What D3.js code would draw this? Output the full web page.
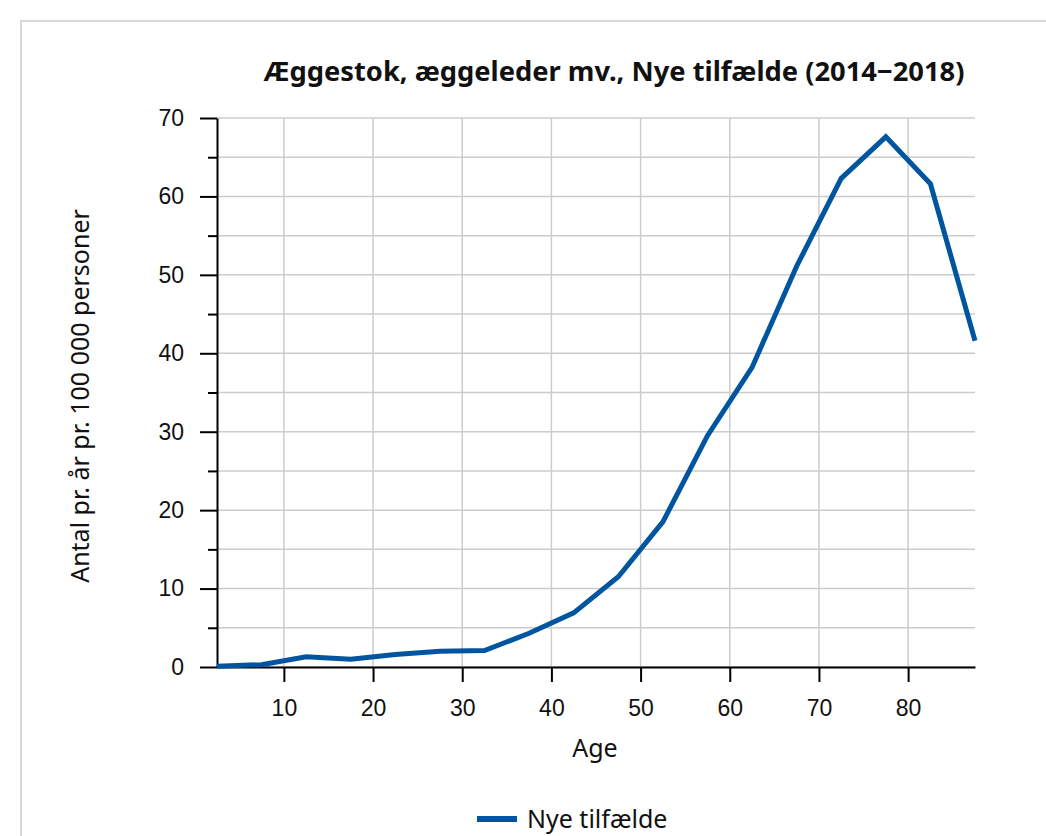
<!DOCTYPE html>
<html lang="da">
<head>
<meta charset="utf-8">
<script src="https://d3js.org/d3.v7.min.js"></script>
<style>
body { margin: 0; background: #fff; }
.frame { position: absolute; left: 20px; top: 20px; width: 1040px; height: 830px; border-top: 2px solid #d9d9d9; border-left: 2px solid #d9d9d9; }
</style>
</head>
<body>
<div class="frame"></div>
<script>
// age group midpoints and new cases per 100 000
var ages = [2.5, 7.5, 12.5, 17.5, 22.5, 27.5, 32.5, 37.5, 42.5, 47.5, 52.5, 57.5, 62.5, 67.5, 72.5, 77.5, 82.5, 87.5];
var rates = [0.1, 0.3, 1.3, 1.0, 1.6, 2.0, 2.1, 4.3, 6.9, 11.5, 18.5, 29.5, 38.2, 51.1, 62.3, 67.6, 61.6, 41.6];
var xTicks = [10, 20, 30, 40, 50, 60, 70, 80];
var yTicks = [0, 10, 20, 30, 40, 50, 60, 70];
var yMinor = [5, 15, 25, 35, 45, 55, 65];

var width = 1046, height = 836;
var plotLeft = 217, plotRight = 975, plotTop = 118, plotBottom = 667;

var svg = d3.select("body").append("svg")
    .attr("width", width).attr("height", height)
    .style("position", "absolute").style("left", 0).style("top", 0);

var x = d3.scaleLinear().domain([2.5, 87.5]).range([plotLeft, plotRight]);
var y = d3.scaleLinear().domain([0, 70]).range([plotBottom, plotTop]);

// grid
svg.append("g").selectAll("line").data(yTicks.concat(yMinor)).enter().append("line")
    .attr("x1", plotLeft).attr("x2", plotRight)
    .attr("y1", d => y(d)).attr("y2", d => y(d))
    .style("stroke", "#cccccc").style("stroke-width", 1.5);
svg.append("g").selectAll("line").data(xTicks).enter().append("line")
    .attr("x1", d => x(d)).attr("x2", d => x(d))
    .attr("y1", plotTop).attr("y2", plotBottom)
    .style("stroke", "#cccccc").style("stroke-width", 1.5);

// y axis
svg.append("g").attr("transform", "translate(" + plotLeft + ",0)")
    .call(d3.axisLeft(y).tickValues(yTicks).tickSize(17).tickPadding(16).tickSizeOuter(0));
svg.append("g").attr("transform", "translate(" + plotLeft + ",0)")
    .call(d3.axisLeft(y).tickValues(yMinor).tickSize(9).tickFormat("").tickSizeOuter(0))
    .select(".domain").remove();

// x axis
svg.append("g").attr("transform", "translate(0," + plotBottom + ")")
    .call(d3.axisBottom(x).tickValues(xTicks).tickSize(15).tickPadding(18).tickSizeOuter(0));

svg.selectAll(".domain, .tick line").style("stroke", "#000").style("stroke-width", 2);
svg.selectAll(".tick text").style("font-family", "'Liberation Sans', Arial, sans-serif")
    .style("font-size", "23px").style("fill", "#111");

// line
var line = d3.line().x((d, i) => x(ages[i])).y(d => y(d));
svg.append("path").datum(rates)
    .attr("d", line)
    .style("fill", "none")
    .style("stroke", "#0055a0")
    .style("stroke-width", 5)
    .style("stroke-linejoin", "miter");

// title
svg.append("text")
    .attr("x", 614).attr("y", 81)
    .attr("text-anchor", "middle")
    .style("font-family", "'Noto Sans', sans-serif")
    .style("font-weight", "bold")
    .style("font-size", "27.3px")
    .style("fill", "#111")
    .text("Æggestok, æggeleder mv., Nye tilfælde (2014−2018)");

// axis titles
svg.append("text")
    .attr("transform", "translate(89,396) rotate(-90)")
    .attr("text-anchor", "middle")
    .style("font-family", "'Noto Sans', sans-serif")
    .style("font-size", "25px")
    .style("fill", "#111")
    .text("Antal pr. år pr. 100 000 personer");

svg.append("text")
    .attr("x", 595).attr("y", 757)
    .attr("text-anchor", "middle")
    .style("font-family", "'Noto Sans', sans-serif")
    .style("font-size", "25px")
    .style("fill", "#111")
    .text("Age");

// legend
svg.append("line")
    .attr("x1", 477).attr("x2", 517).attr("y1", 819).attr("y2", 819)
    .style("stroke", "#0055a0").style("stroke-width", 6);
svg.append("text")
    .attr("x", 527).attr("y", 828)
    .style("font-family", "'Noto Sans', sans-serif")
    .style("font-size", "25px")
    .style("fill", "#111")
    .text("Nye tilfælde");
</script>
</body>
</html>
